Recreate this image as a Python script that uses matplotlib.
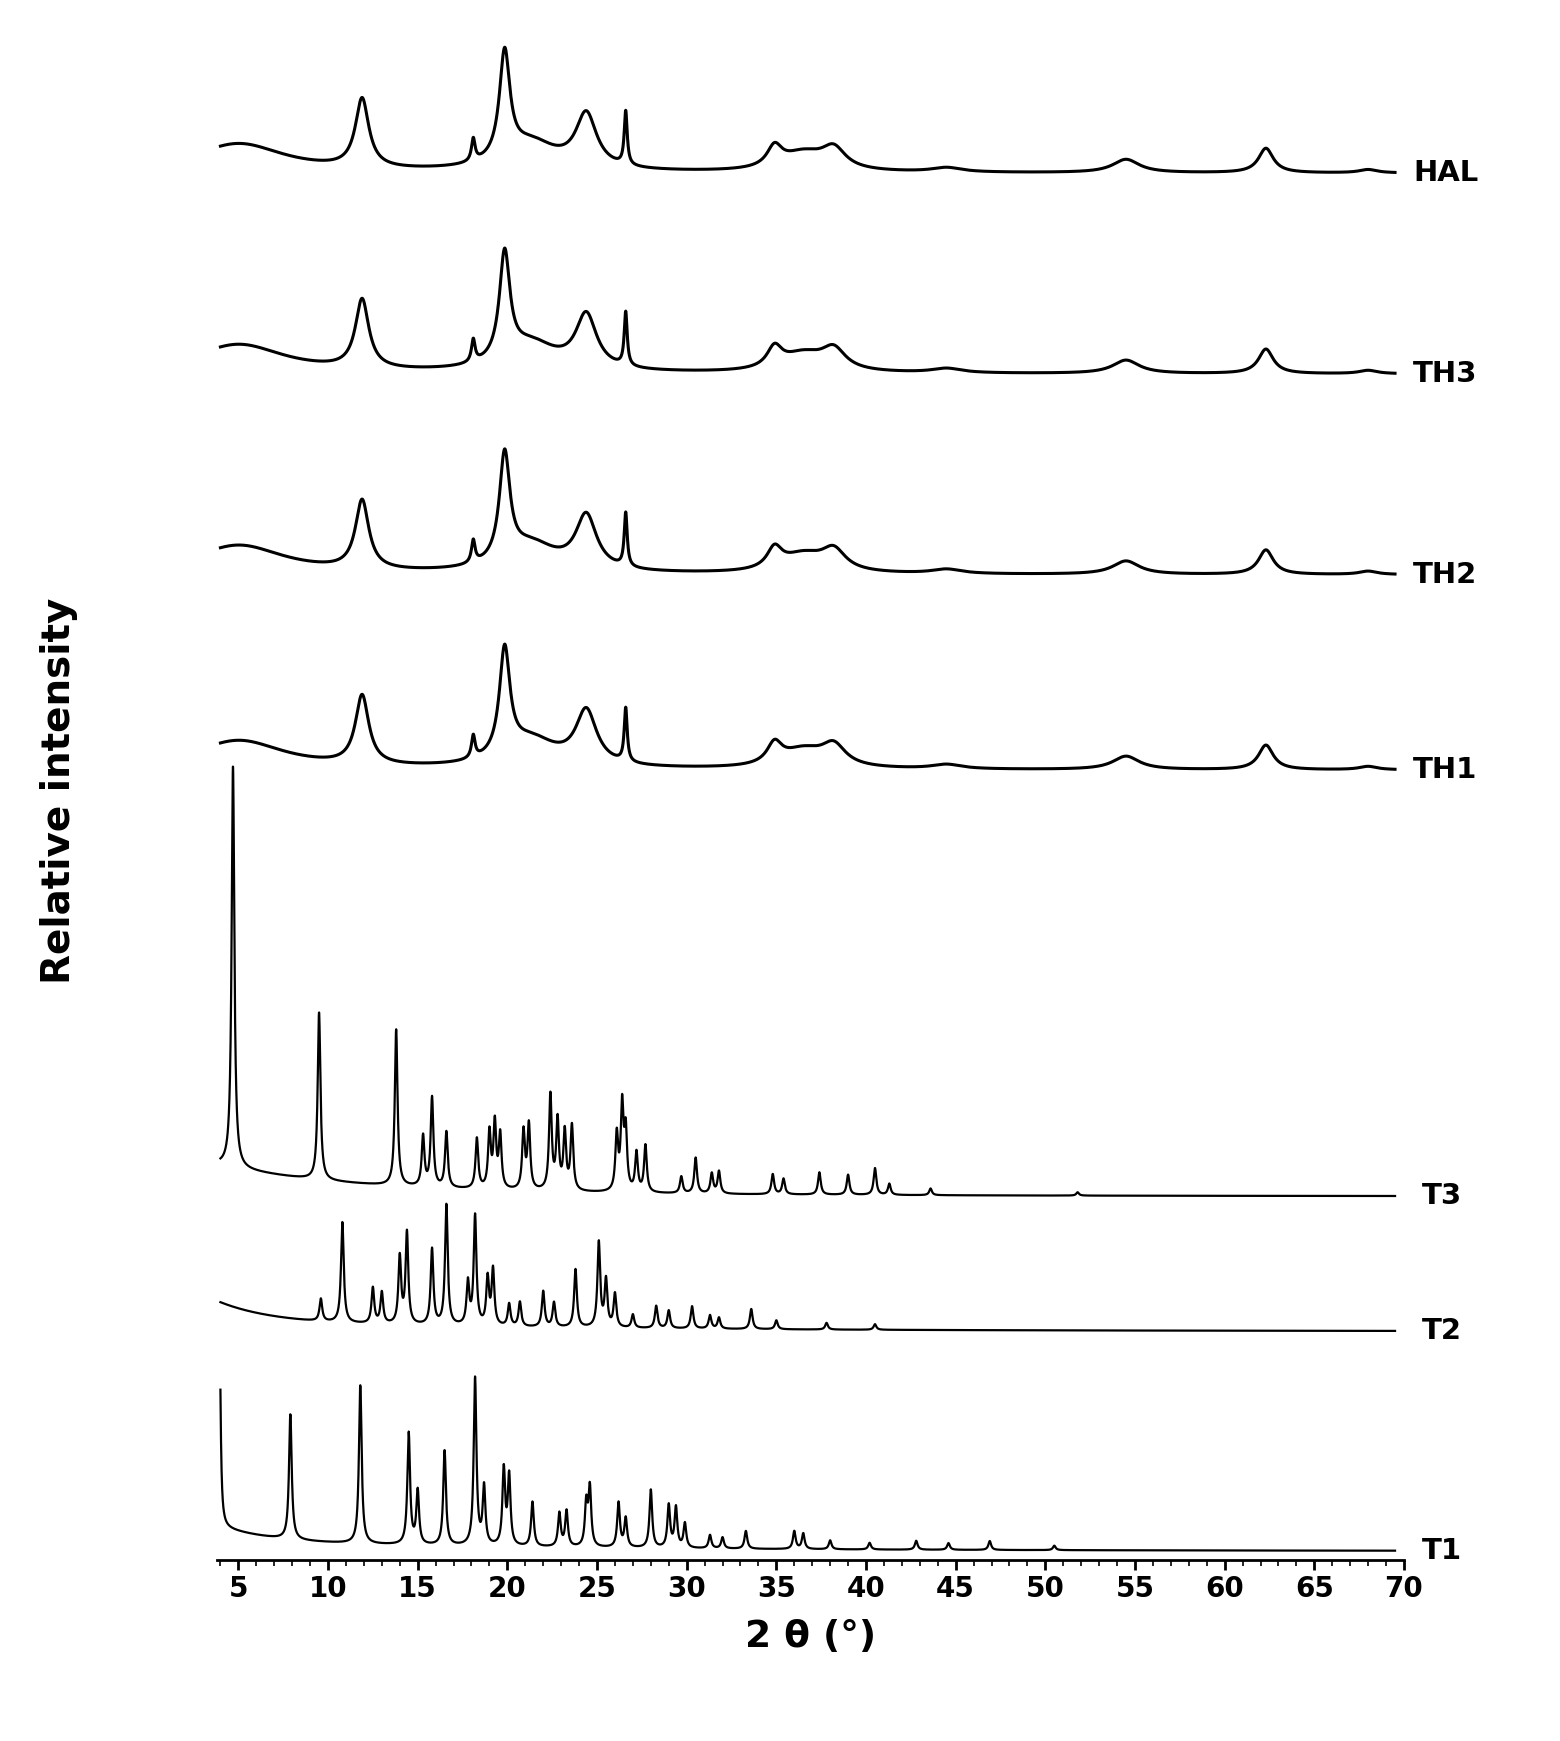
import numpy as np
import matplotlib
matplotlib.use("Agg")
import matplotlib.pyplot as plt

# ---- data: peak lists (position 2θ, height, half-width) per pattern, baselines ----
labels = ["HAL", "TH3", "TH2", "TH1", "T3", "T2", "T1"]
baselines = [155, 335, 515, 690, 1072, 1193, 1390]
hal_scale = [1.0, 1.0, 1.0, 1.0]

hal_pos = [5.0, 11.9, 18.1, 19.85, 21.3, 24.4, 26.6, 34.9, 36.5, 38.2, 44.5, 54.5, 62.3, 68.0]
hal_h   = [26, 62, 20, 95, 25, 48, 48, 18, 16, 18, 4, 12, 22, 3]
hal_w   = [3.2, 0.45, 0.12, 0.35, 1.8, 0.7, 0.1, 0.5, 1.5, 0.8, 1.0, 0.9, 0.5, 0.6]

t3_pos = [4.7, 9.5, 13.8, 15.3, 15.8, 16.6, 18.3, 19.0, 19.3, 19.6, 20.9, 21.2, 22.4, 22.8,
          23.2, 23.6, 26.1, 26.4, 26.6, 27.2, 27.7, 29.7, 30.5, 31.4, 31.8, 34.8, 35.4,
          37.4, 39.0, 40.5, 41.3, 43.6, 51.8]
t3_h   = [360, 150, 140, 45, 80, 50, 45, 50, 58, 48, 52, 58, 85, 62, 52, 58, 50, 75,
          52, 35, 42, 15, 32, 18, 20, 18, 14, 20, 18, 24, 10, 6, 3]
t3_bg  = [22, 7.0]

t2_pos = [9.6, 10.8, 12.5, 13.0, 14.0, 14.4, 15.8, 16.6, 17.8, 18.2, 18.9, 19.2, 20.1, 20.7,
          22.0, 22.6, 23.8, 25.1, 25.5, 26.0, 27.0, 28.3, 29.0, 30.3, 31.3, 31.8, 33.6,
          35.0, 37.8, 40.5]
t2_h   = [20, 90, 32, 28, 60, 82, 68, 108, 38, 98, 42, 50, 20, 22, 32, 22, 52, 76, 42,
          30, 12, 20, 16, 20, 12, 10, 18, 8, 6, 5]
t2_bg  = [18, 3.0]

t1_pos = [3.95, 7.9, 11.8, 14.5, 15.0, 16.5, 18.2, 18.7, 19.8, 20.1, 21.4, 22.9, 23.3,
          24.4, 24.6, 26.2, 26.6, 28.0, 29.0, 29.4, 29.9, 31.3, 32.0, 33.3, 36.0, 36.5,
          38.0, 40.2, 42.8, 44.6, 46.9, 50.5]
t1_h   = [185, 112, 142, 100, 48, 85, 150, 52, 68, 62, 40, 30, 32, 38, 52, 40, 26, 52,
          38, 36, 22, 12, 10, 16, 16, 14, 8, 6, 8, 6, 8, 4]
t1_bg  = [14, 3.0]

x = np.linspace(4.0, 69.5, 8000)

def lor(xx, pos, h, w):
    y = np.zeros_like(xx)
    for p, a, ww in zip(pos, h, w):
        y += a / (1 + ((xx - p) / ww) ** 2)
    return y

def bg(xx, b):
    return b[0] * np.exp(-(xx - 4) / b[1])

profiles = []
for s in hal_scale:
    profiles.append(lor(x, hal_pos, [h * s for h in hal_h], hal_w))
sharp = lambda pos: [0.09] * len(pos)
profiles.append(lor(x, t3_pos, t3_h, sharp(t3_pos)) + bg(x, t3_bg) + 6 * np.exp(-(x - 4) / 20))
profiles.append(lor(x, t2_pos, t2_h, sharp(t2_pos)) + bg(x, t2_bg) + 8 * np.exp(-(x - 4) / 20))
profiles.append(lor(x, t1_pos, t1_h, [0.07] + sharp(t1_pos)[1:]) + bg(x, t1_bg) + 8 * np.exp(-(x - 4) / 20))

fig = plt.figure(figsize=(15.6, 17.41), dpi=100)
ax = fig.add_axes([0.139, 0.104, 0.761, 0.883])
for i, (lab, base, prof) in enumerate(zip(labels, baselines, profiles)):
    lw = 2.2 if i < 4 else 1.6
    ax.plot(x, base - prof, color="black", lw=lw)
    ax.text(70.5 if i < 4 else 71.0, base, lab, fontsize=21, fontweight="bold",
            va="center", ha="left", clip_on=False)

ax.set_xlim(3.8, 70)
ax.set_ylim(1398, 20)
for s in ["left", "right", "top"]:
    ax.spines[s].set_visible(False)
ax.spines["bottom"].set_linewidth(2)
ax.set_yticks([])
ax.set_xticks(np.arange(5, 71, 5))
ax.set_xticks(np.arange(4, 71, 1), minor=True)
ax.tick_params(axis="x", which="major", labelsize=20, width=2, length=7)
ax.tick_params(axis="x", which="minor", width=1.2, length=4)
for t in ax.get_xticklabels():
    t.set_fontweight("bold")
ax.set_xlabel("2 θ (°)", fontsize=27, fontweight="bold", labelpad=12)
ax.set_ylabel("Relative intensity", fontsize=28, fontweight="bold", labelpad=100)
fig.savefig("out.png", dpi=100)
